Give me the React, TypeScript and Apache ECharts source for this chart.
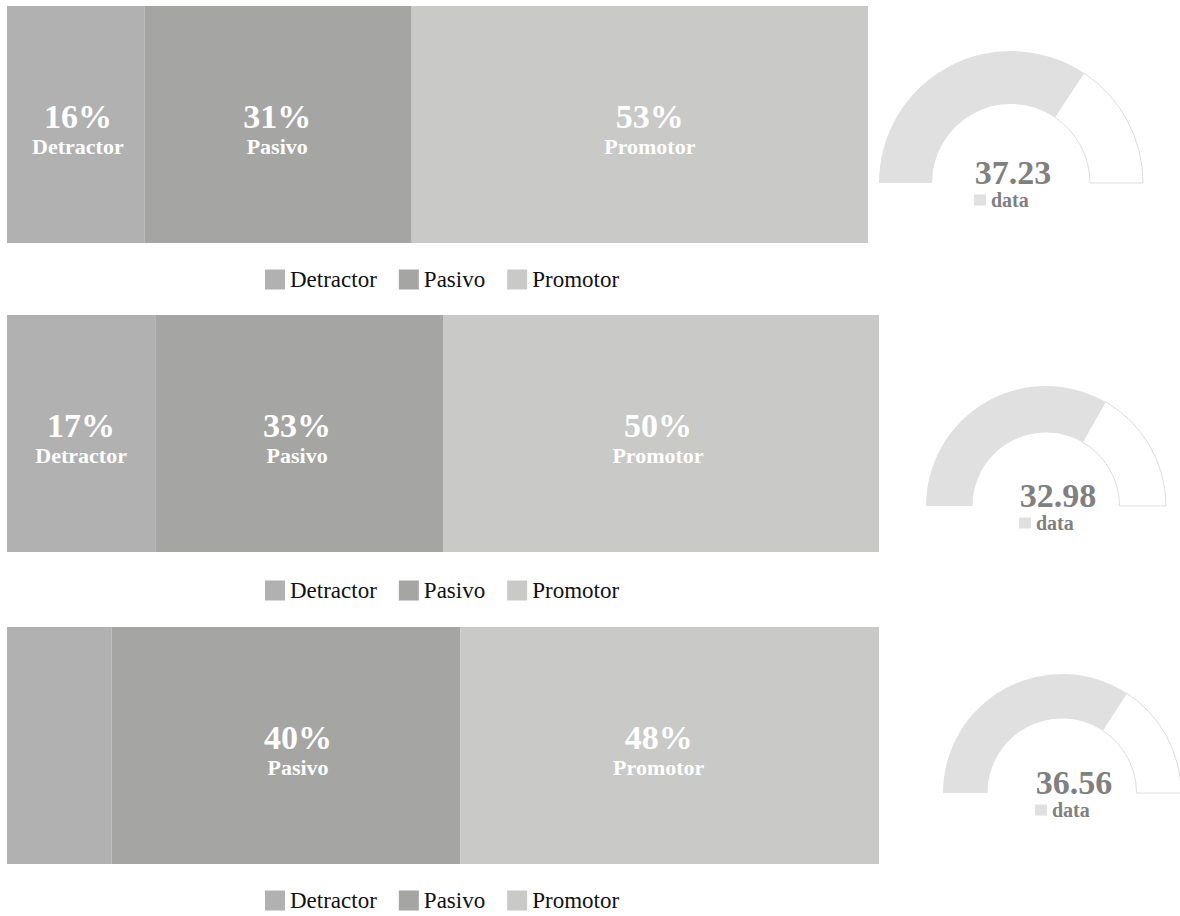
import React, { useEffect, useRef } from "react";
import * as echarts from "echarts";

// ---- data ----
const rowCategories = ["NPS"];
const segmentNames = ["Detractor", "Pasivo", "Promotor"];
const detractor = [16, 17, 12];
const pasivo = [31, 33, 40];
const promotor = [53, 50, 48];
const npsScores = [37.23, 32.98, 36.56];
const npsMin = -100;
const npsMax = 100;
const gaugeLegendNames = ["data"];

// ---- layout & style ----
const FONT = '"Liberation Serif", "Times New Roman", serif';
const segColors = ["#b1b1b1", "#a5a5a3", "#c9c9c7"];
const grids = [
  { left: 7, top: 6, width: 861, height: 237 },
  { left: 7, top: 315, width: 872, height: 237 },
  { left: 7, top: 627, width: 872, height: 237 },
];
// horizontal nudges of the in-bar labels (per row, per segment)
const labelShiftX = [
  [2, -1, 10],
  [0, -2, -3],
  [0, 12, -11],
];
const barLegendPos = [
  { left: 265, top: 268 },
  { left: 265, top: 579 },
  { left: 265, top: 889 },
];
const pieLayout = [
  { center: [1011, 183], radius: [79, 132] },
  { center: [1046, 506], radius: [73.5, 120] },
  { center: [1062, 793], radius: [74.5, 119] },
];
const gaugeTextPos = [
  { x: 1013, y: 172 },
  { x: 1058, y: 495 },
  { x: 1074, y: 782 },
];
const gaugeLegendPos = [
  { left: 974, top: 190 },
  { left: 1019, top: 513 },
  { left: 1035, top: 800 },
];

export default function App() {
  const ref = useRef<HTMLDivElement>(null);
  useEffect(() => {
    if (!ref.current) return;
    const chart = echarts.init(ref.current, null, { renderer: "svg" });
    const rows = [0, 1, 2];
    const segValues = [detractor, pasivo, promotor];

    const series: any[] = [];
    rows.forEach((r) => {
      segmentNames.forEach((name, s) => {
        const v = segValues[s][r];
        series.push({
          type: "bar",
          name,
          stack: "row" + r,
          xAxisIndex: r,
          yAxisIndex: r,
          barWidth: "100%",
          itemStyle: { color: segColors[s] },
          emphasis: { disabled: true },
          label: {
            show: true,
            position: "inside",
            offset: [labelShiftX[r][s], 5],
            formatter: (p: any) => `{v|${p.value}%}\n{n|${p.seriesName}}`,
            rich: {
              v: { fontSize: 34, fontWeight: "bold", color: "#fff", fontFamily: FONT, lineHeight: 34 },
              n: { fontSize: 22, fontWeight: "bold", color: "#fff", fontFamily: FONT, lineHeight: 26 },
            },
          },
          data: [{ value: v, label: { show: v >= 15 } }],
        });
      });
      series.push({
        type: "pie",
        name: "gauge" + r,
        center: pieLayout[r].center,
        radius: pieLayout[r].radius,
        startAngle: 180,
        clockwise: true,
        silent: true,
        label: { show: false },
        labelLine: { show: false },
        emphasis: { disabled: true },
        data: [
          { name: gaugeLegendNames[0], value: npsScores[r] - npsMin, itemStyle: { color: "#e0e0e0", borderWidth: 0 } },
          { name: "rest", value: npsMax - npsScores[r], itemStyle: { color: "#ffffff", borderColor: "#dddddd", borderWidth: 1 } },
          { name: "hidden", value: npsMax - npsMin, itemStyle: { color: "rgba(0,0,0,0)", borderWidth: 0 } },
        ],
      });
    });

    const option: any = {
      animation: false,
      grid: grids.map((g) => ({ ...g, containLabel: false })),
      xAxis: rows.map((r) => ({
        type: "value",
        gridIndex: r,
        min: 0,
        max: 100,
        show: false,
      })),
      yAxis: rows.map((r) => ({
        type: "category",
        gridIndex: r,
        data: rowCategories,
        show: false,
      })),
      legend: [
        ...rows.map((r) => ({
          data: segmentNames,
          left: barLegendPos[r].left,
          top: barLegendPos[r].top,
          padding: 0,
          itemWidth: 20,
          itemHeight: 20,
          itemGap: 22,
          icon: "rect",
          textStyle: { fontFamily: FONT, fontSize: 23, color: "#111" },
        })),
        ...rows.map((r) => ({
          data: gaugeLegendNames,
          left: gaugeLegendPos[r].left,
          top: gaugeLegendPos[r].top,
          padding: 0,
          itemWidth: 12,
          itemHeight: 11,
          icon: "rect",
          textStyle: { fontFamily: FONT, fontSize: 20, fontWeight: "bold", color: "#808080" },
        })),
      ],
      graphic: rows.map((r) => ({
        type: "text",
        x: gaugeTextPos[r].x,
        y: gaugeTextPos[r].y,
        style: {
          text: npsScores[r].toFixed(2),
          fontFamily: FONT,
          fontSize: 34,
          fontWeight: "bold",
          fill: "#808080",
          textAlign: "center",
          textVerticalAlign: "middle",
          align: "center",
          verticalAlign: "middle",
        },
      })),
      series,
    };
    chart.setOption(option);
    return () => chart.dispose();
  }, []);
  return (
    <div
      ref={ref}
      style={{ position: "absolute", left: 0, top: 0, width: 1180, height: 916, background: "#fff" }}
    />
  );
}
